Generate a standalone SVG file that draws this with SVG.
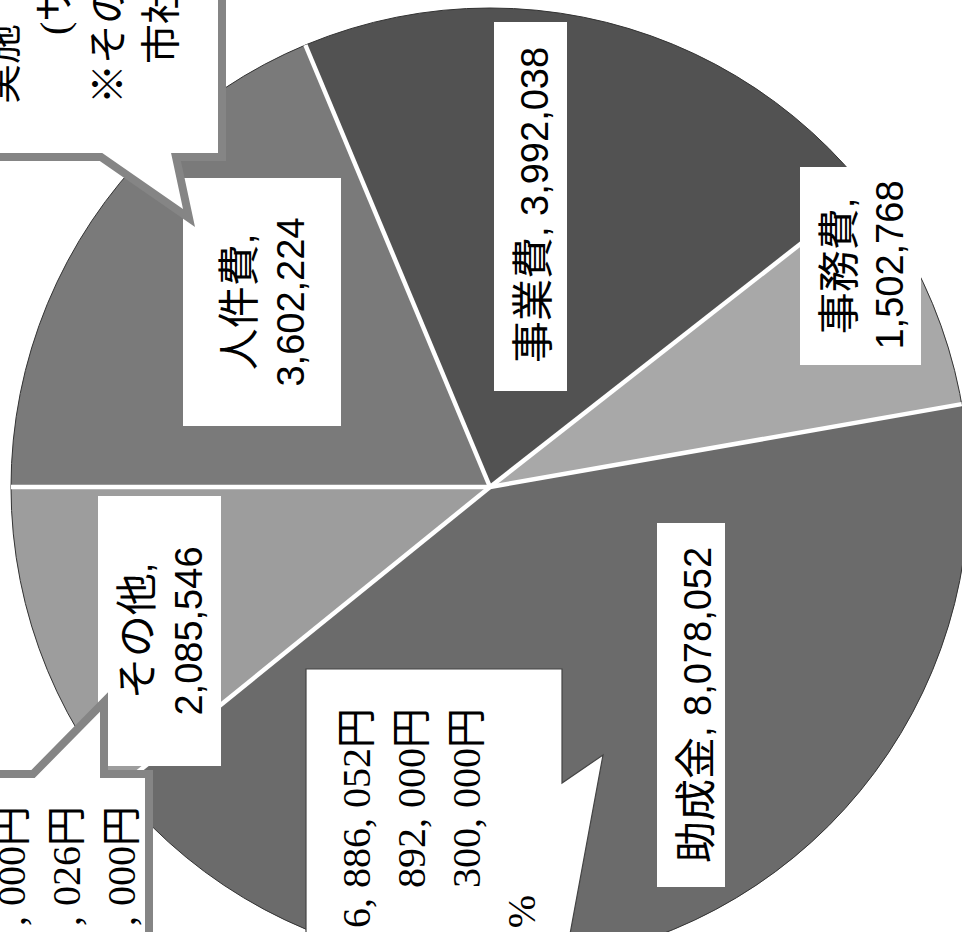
<svg xmlns="http://www.w3.org/2000/svg" width="962" height="932" viewBox="0 0 962 932">
<style>
.lbl{font-family:"Liberation Sans","Noto Sans CJK JP",sans-serif;font-size:38px;fill:#000}
.cj{font-size:42px}
.note{font-family:"Liberation Serif","Noto Sans CJK JP",serif;font-size:40px;fill:#000}
.box{fill:#fff}
.sep{stroke:#fff;stroke-width:4.5;fill:none}
.gcall{fill:#fff;stroke:#858585;stroke-width:8;stroke-linejoin:miter;stroke-miterlimit:4}
</style>
<rect width="962" height="932" fill="#fff"/>
<g id="pie">
<path id="s-jinkenhi" d="M490,487 L11,487 A479,479 0 0 1 305.4,45 Z" fill="#7a7a7a"/>
<path id="s-jigyouhi" d="M490,487 L305.4,45 A479,479 0 0 1 867.2,191.7 Z" fill="#525252"/>
<path id="s-jimuhi" d="M490,487 L867.2,191.7 A479,479 0 0 1 961.8,404.1 Z" fill="#a8a8a8"/>
<path id="s-joseikin" d="M490,487 L961.8,404.1 A479,479 0 0 1 117.6,788.3 Z" fill="#6b6b6b"/>
<path id="s-sonota" d="M490,487 L117.6,788.3 A479,479 0 0 1 11,487 Z" fill="#9d9d9d"/>
<circle cx="490" cy="487" r="479" fill="none" stroke="#333" stroke-width="1"/>
</g>
<g id="connectors">
<line class="sep" x1="490" y1="487" x2="11" y2="487"/>
<line class="sep" x1="490" y1="487" x2="305.4" y2="45"/>
<line class="sep" x1="490" y1="487" x2="867.2" y2="191.7"/>
<line class="sep" x1="490" y1="487" x2="961.8" y2="404.1"/>
<line class="sep" x1="490" y1="487" x2="117.6" y2="788.3"/>
</g>
<g id="label-jinkenhi">
<rect class="box" x="183" y="178" width="158" height="248"/>
<text class="lbl" transform="translate(254,302) rotate(-90)" text-anchor="middle"><tspan class="cj">人件費</tspan>,</text>
<text class="lbl" transform="translate(304,302) rotate(-90)" text-anchor="middle">3,602,224</text>
</g>
<g id="label-jigyouhi">
<rect class="box" x="494" y="22" width="73" height="369"/>
<text class="lbl" transform="translate(548,205) rotate(-90)" text-anchor="middle"><tspan class="cj">事業費</tspan>, 3,992,038</text>
</g>
<g id="label-jimuhi">
<rect class="box" x="800" y="167" width="121" height="198"/>
<text class="lbl" transform="translate(854,266) rotate(-90)" text-anchor="middle"><tspan class="cj">事務費</tspan>,</text>
<text class="lbl" transform="translate(903,265) rotate(-90)" text-anchor="middle">1,502,768</text>
</g>
<g id="label-joseikin">
<rect class="box" x="657" y="523" width="68" height="364"/>
<text class="lbl" transform="translate(711,705) rotate(-90)" text-anchor="middle"><tspan class="cj">助成金</tspan>, 8,078,052</text>
</g>
<g id="label-sonota">
<rect class="box" x="98" y="496" width="123" height="270"/>
<text class="lbl" transform="translate(152,631) rotate(-90)" text-anchor="middle"><tspan class="cj">その他</tspan>,</text>
<text class="lbl" transform="translate(202,631) rotate(-90)" text-anchor="middle">2,085,546</text>
</g>
<g id="callout-a">
<path class="gcall" d="M-10,-10 L222,-10 L222,157 L176,157 L189,218 L101,157 L-10,157 Z"/>
<text class="note" transform="translate(16,104) rotate(-90)">実施</text>
<text class="note" transform="translate(68,35) rotate(-90)">(サ</text>
<text class="note" transform="translate(122,104) rotate(-90)">※その</text>
<text class="note" transform="translate(175,64) rotate(-90)">市社</text>
</g>
<g id="callout-b">
<path class="gcall" d="M-10,774 L33,774 L104,702 L104,774 L149,774 L149,945 L-10,945 Z"/>
<text class="note" transform="translate(25,806) rotate(-90)" text-anchor="end">, 000円</text>
<text class="note" transform="translate(80,806) rotate(-90)" text-anchor="end">, 026円</text>
<text class="note" transform="translate(135,806) rotate(-90)" text-anchor="end">, 000円</text>
</g>
<g id="callout-c">
<path d="M306,669 L562,669 L562,783 L603,755 L568,945 L306,945 Z" fill="#fff" stroke="#444" stroke-width="1.2"/>
<text class="note" transform="translate(370,708) rotate(-90)" text-anchor="end">6, 886, 052円</text>
<text class="note" transform="translate(425,708) rotate(-90)" text-anchor="end">892, 000円</text>
<text class="note" transform="translate(480,708) rotate(-90)" text-anchor="end">300, 000円</text>
<text class="note" transform="translate(535,895) rotate(-90)" text-anchor="end">%</text>
</g>
</svg>
